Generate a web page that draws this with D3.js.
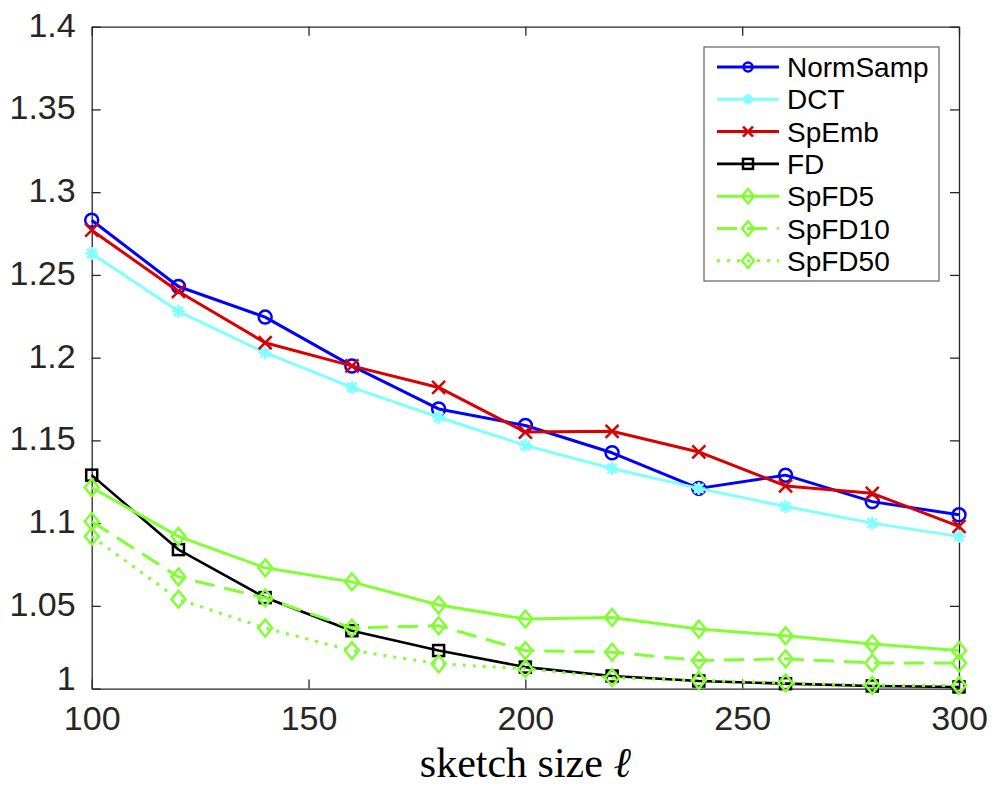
<!DOCTYPE html>
<html>
<head>
    <meta charset="utf-8">
    <title>Sketch size plot</title>
    <script src="https://d3js.org/d3.v7.min.js"></script>
    <style>
        body { margin: 0; background: #fff; }
        text { font-family: "Liberation Sans", Arial, Helvetica, sans-serif; }
    </style>
</head>
<body>
<div id="home"></div>
<script>
    // sketch sizes
    const sizes = [100, 120, 140, 160, 180, 200, 220, 240, 260, 280, 300];

    // values
    const normSamp = [1.283, 1.243, 1.2245, 1.195, 1.169, 1.159, 1.1425, 1.121, 1.129, 1.113, 1.105];
    const dct      = [1.263, 1.228, 1.203, 1.182, 1.164, 1.147, 1.133, 1.121, 1.110, 1.100, 1.092];
    const spEmb    = [1.277, 1.240, 1.209, 1.195, 1.182, 1.155, 1.1555, 1.143, 1.1225, 1.118, 1.098];
    const fd       = [1.129, 1.084, 1.055, 1.035, 1.023, 1.013, 1.0076, 1.0046, 1.003, 1.0016, 1.001];
    const spFD5    = [1.1215, 1.092, 1.073, 1.0645, 1.0505, 1.042, 1.043, 1.036, 1.032, 1.027, 1.023];
    const spFD10   = [1.101, 1.0675, 1.0548, 1.0366, 1.038, 1.023, 1.022, 1.017, 1.018, 1.0155, 1.0155];
    const spFD50   = [1.092, 1.054, 1.0366, 1.023, 1.015, 1.012, 1.0066, 1.005, 1.0034, 1.002, 1.0018];

    const yTicks = [1, 1.05, 1.1, 1.15, 1.2, 1.25, 1.3, 1.35, 1.4];
    const xTicks = [100, 150, 200, 250, 300];

    const series = [
        {name: "NormSamp", values: normSamp, color: "#0000ff", marker: "circle", dash: null, width: 3},
        {name: "DCT",      values: dct,      color: "#80ffff", marker: "star",   dash: null, width: 3},
        {name: "SpEmb",    values: spEmb,    color: "#d90000", marker: "cross",  dash: null, width: 3},
        {name: "FD",       values: fd,       color: "#000000", marker: "square", dash: null, width: 2.6},
        {name: "SpFD5",    values: spFD5,    color: "#80ff33", marker: "diamond", dash: null, width: 3},
        {name: "SpFD10",   values: spFD10,   color: "#80ff33", marker: "diamond", dash: "20,10", width: 3},
        {name: "SpFD50",   values: spFD50,   color: "#80ff33", marker: "diamond", dash: "3,7", width: 3}
    ];

    const w = 995, h = 785;
    const plotL = 91.7, plotR = 959, plotT = 26.7, plotB = 688.6;

    const svg = d3.select("#home")
                  .append("svg")
                  .attr("width", w)
                  .attr("height", h)
                  .style("display", "block");

    svg.append("rect").attr("width", w).attr("height", h).style("fill", "#fff");

    const xScale = d3.scaleLinear().domain([100, 300]).range([plotL, plotR]);
    const yScale = d3.scaleLinear().domain([1, 1.4]).range([plotB, plotT]);

    // draw a marker at (x, y)
    function marker(g, type, x, y, color, s) {
        const sw = 2.5;
        if (type === "circle") {
            g.append("circle").attr("cx", x).attr("cy", y).attr("r", s)
             .style("fill", "none").style("stroke", color).style("stroke-width", sw);
        } else if (type === "square") {
            g.append("rect").attr("x", x - s).attr("y", y - s).attr("width", 2 * s).attr("height", 2 * s)
             .style("fill", "none").style("stroke", color).style("stroke-width", sw);
        } else if (type === "diamond") {
            g.append("path")
             .attr("d", `M${x},${y - s * 1.2}L${x + s},${y}L${x},${y + s * 1.2}L${x - s},${y}Z`)
             .style("fill", "none").style("stroke", color).style("stroke-width", sw);
        } else if (type === "cross") {
            g.append("path")
             .attr("d", `M${x - s},${y - s}L${x + s},${y + s}M${x - s},${y + s}L${x + s},${y - s}`)
             .style("stroke", color).style("stroke-width", sw);
        } else if (type === "star") {
            const d = s * 0.72;
            g.append("path")
             .attr("d", `M${x - s},${y}L${x + s},${y}M${x},${y - s}L${x},${y + s}` +
                        `M${x - d},${y - d}L${x + d},${y + d}M${x - d},${y + d}L${x + d},${y - d}`)
             .style("stroke", color).style("stroke-width", sw);
        }
    }

    // axes box with inward ticks on all sides
    const axisColor = "#262626";
    const yAxis = d3.axisLeft(yScale).tickValues(yTicks)
                    .tickSizeInner(-9).tickSizeOuter(0).tickPadding(16)
                    .tickFormat(d => String(+d.toFixed(2)));
    const xAxis = d3.axisBottom(xScale).tickValues(xTicks)
                    .tickSizeInner(-9).tickSizeOuter(0).tickPadding(17);

    const gy = svg.append("g").attr("transform", `translate(${plotL},0)`).call(yAxis);
    const gx = svg.append("g").attr("transform", `translate(0,${plotB})`).call(xAxis);
    svg.append("g").attr("transform", `translate(${plotR},0)`)
       .call(d3.axisRight(yScale).tickValues(yTicks).tickSizeInner(-9).tickSizeOuter(0).tickFormat(""));
    svg.append("g").attr("transform", `translate(0,${plotT})`)
       .call(d3.axisTop(xScale).tickValues(xTicks).tickSizeInner(-9).tickSizeOuter(0).tickFormat(""));

    svg.selectAll(".domain").style("stroke", axisColor).style("stroke-width", 1.3);
    svg.selectAll(".tick line").style("stroke", axisColor).style("stroke-width", 1.3);
    svg.selectAll(".tick text")
       .style("font-family", '"Liberation Sans", Arial, sans-serif')
       .style("font-size", "34px").style("fill", "#262626");
    // the lowest label sits a little higher so it clears the x labels
    gy.selectAll(".tick text").attr("dy", d => d === 1 ? "0.04em" : "0.28em");
    gx.selectAll(".tick text").attr("dy", "0.71em");

    // series lines and markers
    const line = d3.line()
                   .x((d, i) => xScale(sizes[i]))
                   .y(d => yScale(d));

    series.forEach(function(s) {
        const g = svg.append("g");
        g.append("path")
         .attr("d", line(s.values))
         .style("fill", "none")
         .style("stroke", s.color)
         .style("stroke-width", s.width)
         .style("stroke-dasharray", s.dash)
         .style("stroke-linejoin", "round");
        s.values.forEach(function(v, i) {
            const size = s.marker === "circle" ? 6.5 : (s.marker === "square" ? 5.5 : (s.marker === "diamond" ? 7 : 6.5));
            marker(g, s.marker, xScale(sizes[i]), yScale(v), s.color, size);
        });
    });

    // legend
    const legend = svg.append("g");
    legend.append("rect")
          .attr("x", 704).attr("y", 47).attr("width", 235).attr("height", 234)
          .style("fill", "#fff").style("stroke", "#6e6e6e").style("stroke-width", 1.3);

    series.forEach(function(s, i) {
        const y = 67 + i * 32.3;
        legend.append("line")
              .attr("x1", 717).attr("x2", 779).attr("y1", y).attr("y2", y)
              .style("stroke", s.color)
              .style("stroke-width", s.width)
              .style("stroke-dasharray", s.dash);
        const size = s.marker === "circle" ? 4.5 : (s.marker === "diamond" ? 6 : 5);
        marker(legend, s.marker, 748, y, s.color, size);
        legend.append("text")
              .attr("x", 787).attr("y", y + 10)
              .style("font-size", "28px")
              .style("fill", "#000")
              .text(s.name);
    });

    // x label
    const xl = svg.append("text")
       .attr("x", (plotL + plotR) / 2)
       .attr("y", 777)
       .attr("text-anchor", "middle")
       .style("font-family", '"Liberation Serif", "Times New Roman", serif')
       .style("font-size", "42px")
       .style("fill", "#000");
    xl.append("tspan").text("sketch size ");
    xl.append("tspan").style("font-style", "italic").text("ℓ");
</script>
</body>
</html>
